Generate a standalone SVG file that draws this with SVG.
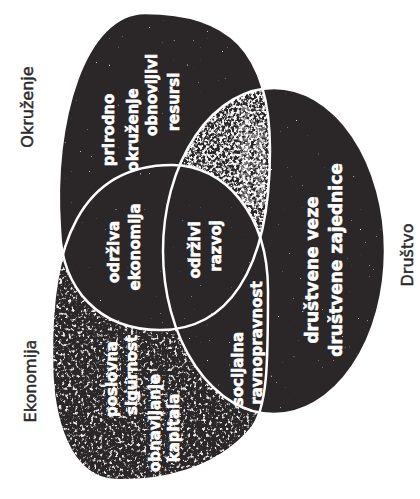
<svg xmlns="http://www.w3.org/2000/svg" xmlns:xlink="http://www.w3.org/1999/xlink" width="420" height="499" viewBox="0 0 420 499">
<style>
.t{font-family:"DejaVu Sans","Liberation Sans",sans-serif;font-weight:bold;font-size:15px;fill:#ffffff;stroke:#ffffff;stroke-width:0.6;text-anchor:middle}
.d{font-size:17px}
.lab{font-family:"DejaVu Sans","Liberation Sans",sans-serif;font-size:16px;fill:#2a2a2a;stroke:#2a2a2a;stroke-width:0.45;text-anchor:middle}
.ol{fill:none;stroke:#ffffff;stroke-width:2.5}
</style>
<defs>
<path id="O" d="M145,13 C228,13 270,50 270,150 C270,275 225,330 160,330 C100,330 62,290 60,230 C52,120 85,13 145,13 Z"/>
<path id="E" d="M172,165 C225,165 268,215 268,290 C268,360 268,410 250,430 C215,470 160,482 115,480 C70,478 52,420 52,360 C50,245 80,165 172,165 Z"/>
<ellipse id="D" cx="274" cy="251" rx="111" ry="163"/>
<filter id="spk" filterUnits="userSpaceOnUse" x="0" y="0" width="420" height="499">
<feTurbulence type="fractalNoise" baseFrequency="0.32" numOctaves="3" seed="4"/>
<feColorMatrix type="matrix" values="0 0 0 0 0.82  0 0 0 0 0.82  0 0 0 0 0.82  6 0 0 0 -3.3"/>
</filter>
<filter id="spk2" filterUnits="userSpaceOnUse" x="0" y="0" width="420" height="499">
<feTurbulence type="fractalNoise" baseFrequency="0.35" numOctaves="3" seed="9"/>
<feColorMatrix type="matrix" values="0 0 0 0 0.92  0 0 0 0 0.92  0 0 0 0 0.92  6 0 0 0 -2.6"/>
</filter>
<filter id="spk3" filterUnits="userSpaceOnUse" x="0" y="0" width="420" height="499">
<feTurbulence type="fractalNoise" baseFrequency="0.45" numOctaves="1" seed="2"/>
<feColorMatrix type="matrix" values="0 0 0 0 1  0 0 0 0 1  0 0 0 0 1  14 0 0 0 -10.6"/>
</filter>
<mask id="mE" maskUnits="userSpaceOnUse" x="0" y="0" width="420" height="499">
<use xlink:href="#E" fill="#fff"/><use xlink:href="#O" fill="#000"/><use xlink:href="#D" fill="#000"/>
</mask>
<mask id="mL" maskUnits="userSpaceOnUse" x="0" y="0" width="420" height="499">
<use xlink:href="#O" fill="#fff"/><use xlink:href="#E" fill="#000"/>
</mask>
<mask id="mAll" maskUnits="userSpaceOnUse" x="0" y="0" width="420" height="499">
<use xlink:href="#O" fill="#fff"/><use xlink:href="#E" fill="#fff"/><use xlink:href="#D" fill="#fff"/>
</mask>
<clipPath id="cD"><use xlink:href="#D"/></clipPath>
</defs>
<rect width="420" height="499" fill="#ffffff"/>
<g id="shapes">
<use xlink:href="#O" fill="#2b2728"/>
<use xlink:href="#D" fill="#2b2728"/>
<use xlink:href="#E" fill="#2b2728"/>
<rect width="420" height="499" filter="url(#spk3)" mask="url(#mAll)"/>
<rect width="420" height="499" filter="url(#spk)" mask="url(#mE)"/>
<g clip-path="url(#cD)"><rect width="420" height="499" filter="url(#spk2)" mask="url(#mL)"/></g>
</g>
<g id="outlines">
<use xlink:href="#O" class="ol"/>
<use xlink:href="#D" class="ol"/>
<use xlink:href="#E" class="ol"/>
</g>
<g id="okruzenje">
<text class="lab" transform="translate(33,107) rotate(-90)">Okruženje</text>
<text class="t" transform="translate(114,130) rotate(-90)">prirodno</text>
<text class="t" transform="translate(138,130) rotate(-90)">okruženje</text>
<text class="t" transform="translate(157,95) rotate(-90)">obnovljivi</text>
<text class="t" transform="translate(179,102) rotate(-90)">resursi</text>
</g>
<g id="okruzenje-drustvo">
<text class="t" opacity="0.35" transform="translate(250,155) rotate(-90)">podnošljivo</text>
<text class="t" opacity="0.35" transform="translate(265,165) rotate(-90)">okruženje</text>
</g>
<g id="odrziva-ekonomija">
<text class="t" transform="translate(119,252) rotate(-90)">održiva</text>
<text class="t" transform="translate(140,247) rotate(-90)">ekonomija</text>
</g>
<g id="odrzivi-razvoj">
<text class="t" transform="translate(200,250) rotate(-90)">održivi</text>
<text class="t" transform="translate(221,246) rotate(-90)">razvoj</text>
</g>
<g id="drustvo">
<text class="lab" transform="translate(413,255) rotate(-90)">Društvo</text>
<text class="t d" transform="translate(318,270) rotate(-90)">društvene veze</text>
<text class="t d" transform="translate(342,260) rotate(-90)">društvene zajednice</text>
</g>
<g id="socijalna">
<text class="t" transform="translate(243,369) rotate(-90)">socijalna</text>
<text class="t" transform="translate(262,343) rotate(-90)">ravnopravnost</text>
</g>
<g id="ekonomija">
<text class="lab" transform="translate(36,381) rotate(-90)">Ekonomija</text>
<text class="t" transform="translate(117,379) rotate(-90)">poslovna</text>
<text class="t" transform="translate(137,375) rotate(-90)">sigurnost</text>
<text class="t" transform="translate(160,423) rotate(-90)">obnavljanje</text>
<text class="t" transform="translate(179,428) rotate(-90)">kapitala</text>
</g>
</svg>
